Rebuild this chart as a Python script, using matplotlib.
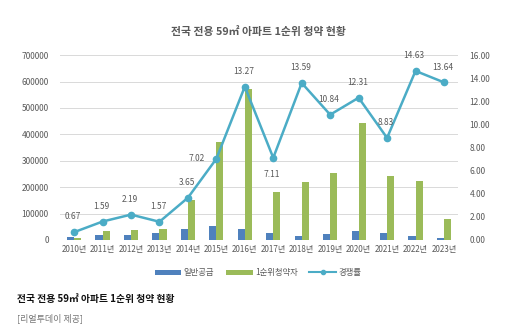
import matplotlib
matplotlib.use("Agg")
import matplotlib.pyplot as plt
from matplotlib.lines import Line2D
from matplotlib.patches import Patch
import numpy as np

plt.rcParams['font.family'] = ['Noto Sans CJK KR', 'DejaVu Sans']

years = ["2010년", "2011년", "2012년", "2013년", "2014년", "2015년", "2016년",
         "2017년", "2018년", "2019년", "2020년", "2021년", "2022년", "2023년"]
general_supply = [10000, 20000, 18000, 28000, 40000, 53000, 43000,
                  25000, 15000, 23000, 35000, 28000, 15000, 6000]
first_applicants = [6000, 33000, 38000, 43000, 150000, 372000, 570000,
                    183000, 219000, 253000, 444000, 242000, 222000, 79000]
competition = [0.67, 1.59, 2.19, 1.57, 3.65, 7.02, 13.27,
               7.11, 13.59, 10.84, 12.31, 8.83, 14.63, 13.64]

BLUE = "#4F81BD"
GREEN = "#9BBB59"
TEAL = "#4BACC6"
GRAY = "#595959"

fig = plt.figure(figsize=(5.16, 3.30), dpi=100)
ax = fig.add_axes([0.116, 0.273, 0.772, 0.560])
ax2 = ax.twinx()

x = np.arange(len(years))
w = 0.25
ax.bar(x - w / 2, general_supply, w, color=BLUE, zorder=2)
ax.bar(x + w / 2, first_applicants, w, color=GREEN, zorder=2)

ax.set_xlim(-0.5, len(years) - 0.5)
ax.set_ylim(0, 700000)
ax.set_yticks(np.arange(0, 700001, 100000))
ax.set_yticklabels([f"{v:d}" for v in range(0, 700001, 100000)])
ax.set_xticks(x)
ax.set_xticklabels(years)
ax.grid(axis="y", color="#D9D9D9", linewidth=0.7, zorder=0)
ax.set_axisbelow(True)

ax2.plot(x, competition, color=TEAL, linewidth=1.8, marker="o",
         markersize=4.5, zorder=3)
ax2.set_ylim(0, 16)
ax2.set_yticks(np.arange(0, 16.01, 2))
ax2.set_yticklabels([f"{v:.2f}" for v in np.arange(0, 16.01, 2)])

for a in (ax, ax2):
    for s in a.spines.values():
        s.set_visible(False)
    a.tick_params(length=0, labelsize=6, colors=GRAY)
ax.tick_params(axis="y", pad=8)
ax.tick_params(axis="x", pad=4, labelsize=5.8)
ax2.tick_params(axis="y", pad=8)

for i, v in enumerate(competition):
    if years[i] == "2017년":
        ax2.annotate(f"{v:.2f}", (i, v), xytext=(-1, -12), textcoords="offset points",
                     ha="center", va="center", fontsize=6, color=GRAY)
    elif years[i] == "2015년":
        ax2.annotate(f"{v:.2f}", (i, v), xytext=(-8, 0), textcoords="offset points",
                     ha="right", va="center", fontsize=6, color=GRAY)
    else:
        ax2.annotate(f"{v:.2f}", (i, v), xytext=(-1, 11), textcoords="offset points",
                     ha="center", va="center", fontsize=6, color=GRAY)

fig.text(0.5, 0.905, "전국 전용 59㎡ 아파트 1순위 청약 현황", ha="center", va="center",
         fontsize=7.8, fontweight="bold", color=GRAY)

handles = [Patch(facecolor=BLUE), Patch(facecolor=GREEN),
           Line2D([0], [0], color=TEAL, linewidth=1.5, marker="o", markersize=3)]
fig.legend(handles, ["일반공급", "1순위청약자", "경쟁률"], loc="center",
           bbox_to_anchor=(0.5, 0.173), ncol=3, frameon=False, fontsize=6,
           handlelength=3.2, handleheight=0.7, handletextpad=0.3, columnspacing=1.4,
           labelcolor=GRAY)

fig.text(0.033, 0.093, "전국 전용 59㎡ 아파트 1순위 청약 현황", ha="left", va="center",
         fontsize=7, fontweight="bold", color="#111111")
fig.text(0.033, 0.037, "[리얼투데이 제공]", ha="left", va="center",
         fontsize=6.5, color="#777777")

fig.savefig("out.png", dpi=100, facecolor="white")
